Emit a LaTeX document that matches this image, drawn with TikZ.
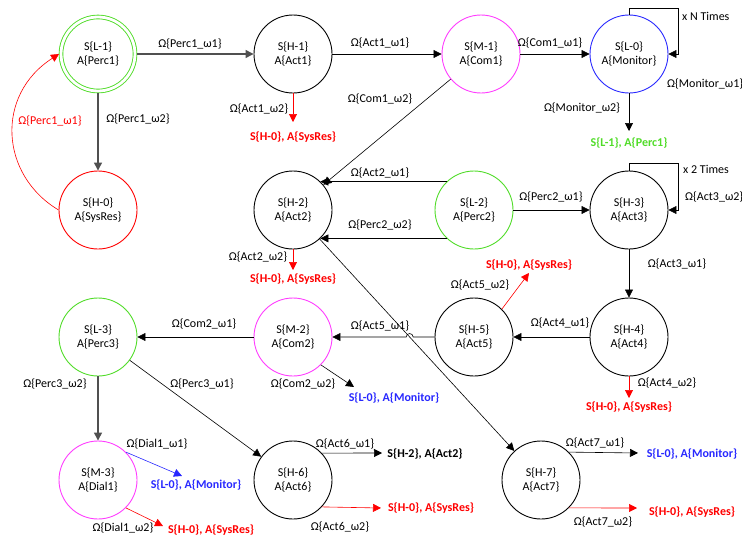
\documentclass[tikz,border=0pt]{standalone}
\usepackage{fontspec}
\setmainfont{Carlito}
\usetikzlibrary{arrows.meta}

\definecolor{stgreen}{RGB}{80,220,40}
\definecolor{stpink}{RGB}{255,60,255}
\definecolor{stblue}{RGB}{40,40,255}
\definecolor{stred}{RGB}{255,0,0}
\definecolor{stgray}{RGB}{80,80,80}

\newcommand{\lblfont}{\fontsize{12}{14.5}\selectfont}

\tikzset{
  state/.style={circle,draw,minimum size=78pt,inner sep=0pt,align=center,line width=0.9pt},
  tr/.style={-{Triangle[length=8pt,width=8pt]},line width=0.6pt},
  trheavy/.style={tr,line width=1.3pt,draw=stgray},
  dest/.style={font=\lblfont\bfseries,inner sep=1pt},
  lbl/.style={inner sep=1pt}
}

\begin{document}
\begin{tikzpicture}[x=1pt,y=1pt,font=\lblfont]
    \useasboundingbox (0,0) rectangle (742,-538);
    %% states
    \node[state,draw=stgreen,double,double distance=2.8pt,minimum size=74pt,outer sep=2pt] (L1) at (98,-54) {S\{L-1\}\\A\{Perc1\}};
    \node[state] (H1) at (293,-54) {S\{H-1\}\\A\{Act1\}};
    \node[state,draw=stpink] (M1) at (481,-54) {S\{M-1\}\\A\{Com1\}};
    \node[state,draw=stblue] (L0) at (629,-54) {S\{L-0\}\\A\{Monitor\}};
    \node[state,draw=stred] (H0) at (98,-210) {S\{H-0\}\\A\{SysRes\}};
    \node[state] (H2) at (293,-210) {S\{H-2\}\\A\{Act2\}};
    \node[state,draw=stgreen] (L2) at (474,-210) {S\{L-2\}\\A\{Perc2\}};
    \node[state] (H3) at (629,-210) {S\{H-3\}\\A\{Act3\}};
    \node[state] (H4) at (629,-337) {S\{H-4\}\\A\{Act4\}};
    \node[state] (H5) at (474,-337) {S\{H-5\}\\A\{Act5\}};
    \node[state,draw=stpink] (M2) at (293,-337) {S\{M-2\}\\A\{Com2\}};
    \node[state,draw=stgreen] (L3) at (98,-337) {S\{L-3\}\\A\{Perc3\}};
    \node[state,draw=stpink] (M3) at (98,-480) {S\{M-3\}\\A\{Dial1\}};
    \node[state] (H6) at (293,-480) {S\{H-6\}\\A\{Act6\}};
    \node[state] (H7) at (541,-480) {S\{H-7\}\\A\{Act7\}};

    %% free ends of the exits
    \coordinate (h1out) at (293,-122);
    \coordinate (l0out) at (629,-131);
    \coordinate (h2out) at (293,-270);
    \coordinate (h4out) at (629,-398);
    \coordinate (h5out) at (529,-273);
    \coordinate (m2out) at (354,-387);
    \coordinate (m3outa) at (182,-476);
    \coordinate (m3outb) at (163,-526);
    \coordinate (h6outa) at (382,-453);
    \coordinate (h6outb) at (381,-508);
    \coordinate (h7outa) at (638,-453);
    \coordinate (h7outb) at (637,-508);
    \coordinate (l0loop) at (678,-8);
    \coordinate (h3loop) at (678,-163);

    %% L1 and H0
    \draw[trheavy] (L1) -- (H1);
    \node[lbl] (lp1) at (190,-44) {Ω\{Perc1\_ω1\}};
    \draw[trheavy] (L1) -- (H0);
    \node[lbl] (lp2) at (138,-119) {Ω\{Perc1\_ω2\}};
    \draw[tr,draw=stred] (H0.west) .. controls (0,-175) and (-5,-95) .. (L1.west);
    \node[lbl,text=stred] (lp3) at (50,-121) {Ω\{Perc1\_ω1\}};

    %% H1, M1, L0
    \draw[tr] (H1) -- (M1);
    \node[lbl] (la1) at (380,-43) {Ω\{Act1\_ω1\}};
    \draw[tr,draw=stred] (H1.south) -- (h1out);
    \node[lbl] (la2) at (259,-109) {Ω\{Act1\_ω2\}};
    \node[dest,text=stred] (d1) at (293,-137) {S\{H-0\}, A\{SysRes\}};
    \draw[tr] (M1) -- (L0);
    \node[lbl] (lc1) at (550,-43) {Ω\{Com1\_ω1\}};
    \draw[tr] (M1) -- (H2);
    \node[lbl] (lc2) at (380,-99) {Ω\{Com1\_ω2\}};
    \draw[tr] (L0.north) |- (l0loop) |- (L0.east);
    \node[lbl,anchor=west] (ln) at (681,-16) {x N Times};
    \node[lbl,anchor=west] (lm1) at (666,-84) {Ω\{Monitor\_ω1\}};
    \draw[tr] (L0.south) -- (l0out);
    \node[lbl] (lm2) at (582,-108) {Ω\{Monitor\_ω2\}};
    \node[dest,text=stgreen] (d2) at (629,-143) {S\{L-1\}, A\{Perc1\}};

    %% L2, H2, H3
    \draw[tr] (L2.134) -- (H2.46);
    \node[lbl] (la3) at (380,-173) {Ω\{Act2\_ω1\}};
    \draw[tr] (L2.226) -- (H2.-46);
    \node[lbl] (lp4) at (380,-225) {Ω\{Perc2\_ω2\}};
    \draw[tr,draw=stred] (H2.south) -- (h2out);
    \node[lbl] (la4) at (258,-257) {Ω\{Act2\_ω2\}};
    \node[dest,text=stred] (d3) at (293,-279) {S\{H-0\}, A\{SysRes\}};
    \draw[tr] (L2) -- (H3);
    \node[lbl] (lp5) at (551,-197) {Ω\{Perc2\_ω1\}};
    \draw[tr] (H3.north) |- (h3loop) |- (H3.east);
    \node[lbl,anchor=west] (l2t) at (682,-169) {x 2 Times};
    \node[lbl,anchor=west] (la5) at (684,-197) {Ω\{Act3\_ω2\}};
    \draw[tr] (H3) -- (H4);
    \node[lbl] (la6) at (677,-264) {Ω\{Act3\_ω1\}};

    %% H4, H5, M2
    \draw[tr] (H4) -- (H5);
    \node[lbl] (la7) at (560,-323) {Ω\{Act4\_ω1\}};
    \draw[tr,draw=stred] (H4.south) -- (h4out);
    \node[lbl] (la8) at (667,-383) {Ω\{Act4\_ω2\}};
    \node[dest,text=stred] (d4) at (629,-407) {S\{H-0\}, A\{SysRes\}};
    \draw[tr,draw=stred] (H5.45) -- (h5out);
    \node[lbl] (la9) at (480,-285) {Ω\{Act5\_ω2\}};
    \node[dest,text=stred] (d5) at (529,-265) {S\{H-0\}, A\{SysRes\}};
    \draw[tr] (H2) -- (H7);
    \coordinate (hop) at (intersection of H2--H7 and H5--M2);
    \draw[tr] (H5) -- ([xshift=3.5pt]hop) arc[start angle=0,end angle=180,radius=3.5pt] -- (M2);
    \node[lbl] (la10) at (380,-326) {Ω\{Act5\_ω1\}};
    \draw[tr] (M2) -- (L3);
    \node[lbl] (lc3) at (204,-324) {Ω\{Com2\_ω1\}};
    \draw[tr] (M2.-45) -- (m2out);
    \node[lbl] (lc4) at (303,-384) {Ω\{Com2\_ω2\}};
    \node[dest,text=stblue] (d6) at (394,-398) {S\{L-0\}, A\{Monitor\}};

    %% L3, M3, H6
    \draw[trheavy] (L3) -- (M3);
    \node[lbl] (lp6) at (55,-384) {Ω\{Perc3\_ω2\}};
    \draw[tr] (L3) -- (H6);
    \node[lbl] (lp7) at (202,-384) {Ω\{Perc3\_ω1\}};
    \draw[tr,draw=stblue] (M3.45) -- (m3outa);
    \node[lbl] (ld1) at (157,-444) {Ω\{Dial1\_ω1\}};
    \node[dest,text=stblue] (d7) at (196,-485) {S\{L-0\}, A\{Monitor\}};
    \draw[tr,draw=stred] (M3.-45) -- (m3outb);
    \node[lbl] (ld2) at (123,-528) {Ω\{Dial1\_ω2\}};
    \node[dest,text=stred] (d8) at (211,-530) {S\{H-0\}, A\{SysRes\}};
    \draw[tr] (H6.43) -- (h6outa);
    \node[lbl] (la11) at (345,-444) {Ω\{Act6\_ω1\}};
    \node[dest] (d9) at (425,-454) {S\{H-2\}, A\{Act2\}};
    \draw[tr,draw=stred] (H6.-43) -- (h6outb);
    \node[lbl] (la12) at (340,-527) {Ω\{Act6\_ω2\}};
    \node[dest,text=stred] (d10) at (431,-508) {S\{H-0\}, A\{SysRes\}};

    %% H7
    \draw[tr] (H7.45) -- (h7outa);
    \node[lbl] (la13) at (595,-443) {Ω\{Act7\_ω1\}};
    \node[dest,text=stblue] (d11) at (692,-454) {S\{L-0\}, A\{Monitor\}};
    \draw[tr,draw=stred] (H7.-45) -- (h7outb);
    \node[lbl] (la14) at (603,-522) {Ω\{Act7\_ω2\}};
    \node[dest,text=stred] (d12) at (692,-512) {S\{H-0\}, A\{SysRes\}};
\end{tikzpicture}
\end{document}
